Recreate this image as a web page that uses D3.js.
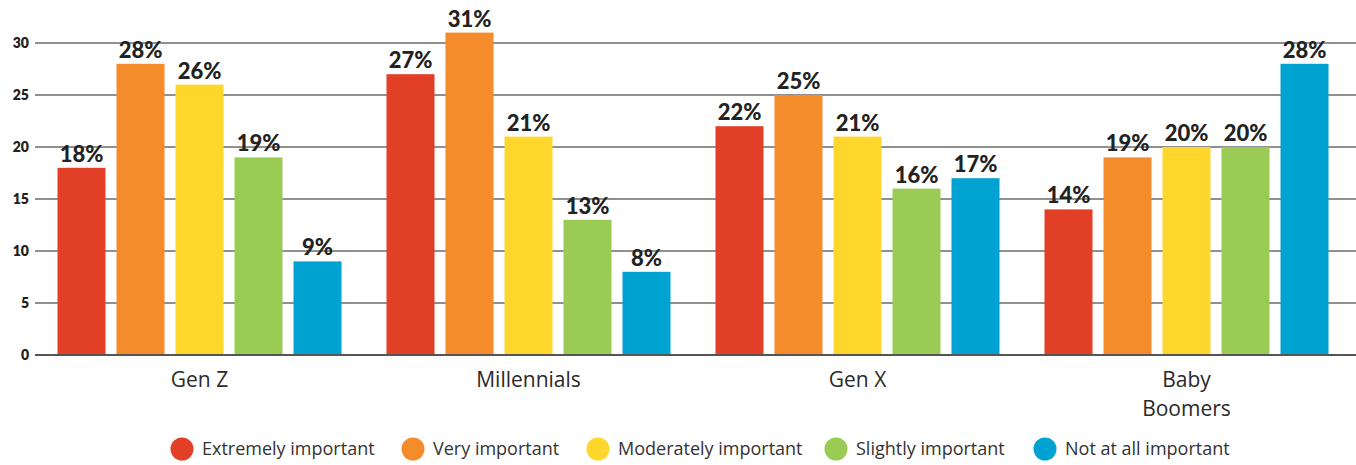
<!DOCTYPE html>
<html>
<head>
<meta charset="utf-8">
<script src="https://cdn.jsdelivr.net/npm/d3@7"></script>
<style>
  html, body { margin: 0; padding: 0; background: #fff; }
  svg { display: block; }
</style>
</head>
<body>
<svg id="chart" width="1356" height="465"></svg>
<script>
// Generations surveyed
const categories = [["Gen Z"], ["Millennials"], ["Gen X"], ["Baby", "Boomers"]];
const categoryKeys = ["Gen Z", "Millennials", "Gen X", "Baby Boomers"];

// Importance levels (series)
const seriesNames = ["Extremely important", "Very important", "Moderately important", "Slightly important", "Not at all important"];
const seriesColors = ["#E13F26", "#F58C2B", "#FFD62C", "#9ACB54", "#00A2D1"];

// Share of respondents (%) per generation, one array per importance level
const extremely = [18, 27, 22, 14];
const very = [28, 31, 25, 19];
const moderately = [26, 21, 21, 20];
const slightly = [19, 13, 16, 20];
const notAtAll = [9, 8, 17, 28];
const seriesValues = [extremely, very, moderately, slightly, notAtAll];

const yTicks = [0, 5, 10, 15, 20, 25, 30];

const svg = d3.select("#chart");

const y = d3.scaleLinear().domain([0, 30]).range([355, 43]);

const x0 = d3.scaleBand().domain(categoryKeys).range([35, 1351]).padding(0);
const x1 = d3.scaleBand()
  .domain(seriesNames)
  .range([17, 312])
  .paddingInner(11 / 59)
  .paddingOuter(11 / 59 / 2);

// Gridlines
const grid = svg.append("g");
grid.selectAll("line")
  .data(yTicks.filter(d => d > 0))
  .join("line")
  .attr("x1", 35).attr("x2", 1356)
  .attr("y1", d => y(d)).attr("y2", d => y(d))
  .attr("stroke", "#6b6b6b")
  .attr("stroke-width", 1.4);

// Y axis tick labels
svg.append("g")
  .selectAll("text")
  .data(yTicks)
  .join("text")
  .attr("x", 29)
  .attr("y", d => y(d))
  .attr("dy", "0.35em")
  .attr("text-anchor", "end")
  .attr("font-family", "Lato, sans-serif")
  .attr("font-weight", 800)
  .attr("font-size", 14)
  .attr("fill", "#222")
  .text(d => d);

// Bars
const groups = svg.append("g")
  .selectAll("g")
  .data(categoryKeys)
  .join("g")
  .attr("transform", d => `translate(${x0(d)},0)`);

groups.each(function(cat, ci) {
  const g = d3.select(this);
  const rows = seriesNames.map((s, si) => ({ s, si, v: seriesValues[si][ci] }));
  g.selectAll("rect")
    .data(rows)
    .join("rect")
    .attr("x", d => x1(d.s))
    .attr("width", x1.bandwidth())
    .attr("y", d => y(d.v))
    .attr("height", d => y(0) - y(d.v))
    .attr("fill", d => seriesColors[d.si]);
  g.selectAll("text.val")
    .data(rows)
    .join("text")
    .attr("class", "val")
    .attr("x", d => x1(d.s) + x1.bandwidth() / 2)
    .attr("y", d => y(d.v) - 6)
    .attr("text-anchor", "middle")
    .attr("font-family", "Lato, sans-serif")
    .attr("font-weight", 900)
    .attr("font-size", 22)
    .attr("fill", "#222")
    .text(d => d.v + "%");
});

// Baseline
svg.append("line")
  .attr("x1", 35).attr("x2", 1356)
  .attr("y1", y(0)).attr("y2", y(0))
  .attr("stroke", "#555")
  .attr("stroke-width", 2.2);

// Category labels (one text per line so wrapped names stack cleanly)
const catGroups = svg.append("g")
  .selectAll("g")
  .data(categories)
  .join("g")
  .attr("transform", (d, i) => `translate(${x0(categoryKeys[i]) + x0.bandwidth() / 2},387)`);
catGroups.selectAll("text")
  .data(d => d)
  .join("text")
  .attr("y", (d, i) => i * 29)
  .attr("text-anchor", "middle")
  .attr("font-family", "'Open Sans', sans-serif")
  .attr("font-size", 21)
  .attr("fill", "#2a2a2a")
  .text(d => d);

// Legend
const legendX = [182, 413, 598, 836, 1045];
const legend = svg.append("g")
  .selectAll("g")
  .data(seriesNames)
  .join("g")
  .attr("transform", (d, i) => `translate(${legendX[i]},449)`);
legend.append("circle")
  .attr("r", 11.5)
  .attr("fill", (d, i) => seriesColors[i]);
legend.append("text")
  .attr("x", 20)
  .attr("dy", "0.35em")
  .attr("font-family", "'Open Sans', sans-serif")
  .attr("font-size", 18)
  .attr("fill", "#333")
  .text(d => d);
</script>
</body>
</html>
